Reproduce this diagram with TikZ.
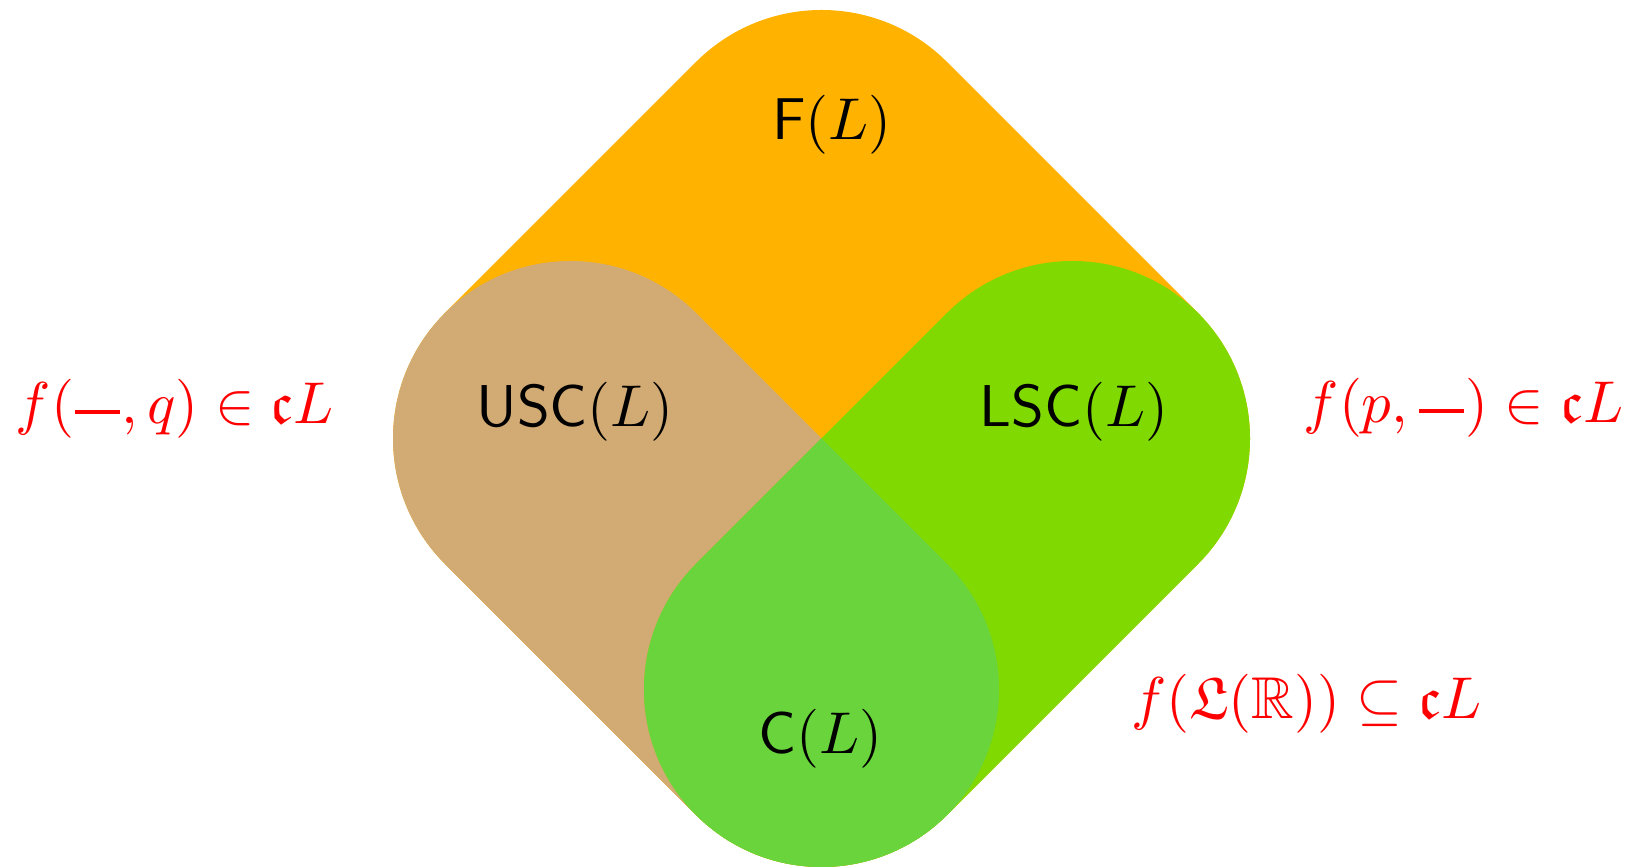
\documentclass[tikz,border=0pt]{standalone}
\usepackage{amssymb}
\usetikzlibrary{calc}
\definecolor{forange}{RGB}{255,179,0}
\definecolor{usctan}{RGB}{210,170,115}
\definecolor{lscgreen}{RGB}{128,217,0}
\definecolor{cgreen}{RGB}{106,212,60}
\newcommand{\blank}{\mbox{\kern0.02em\rule[0.17em]{0.76em}{0.075em}\kern0.02em}}
\begin{document}
\begin{tikzpicture}[x=0.16949pt,y=0.16949pt,
  lbl/.style={inner sep=0pt,anchor=base},
  redlbl/.style={lbl,text=red}]
\useasboundingbox (0,0) rectangle (1633,868);
\def\R{177.5}
\coordinate (O) at (821.5,429.5);
\coordinate (T) at (821.5,680.5);
\coordinate (Lc) at (570.5,429.5);
\coordinate (Rc) at (1072.5,429.5);
\coordinate (B) at (821.5,178.5);
% F(L): big rounded square
\fill[forange] ($(T)+(45:\R)$) arc[start angle=45,end angle=135,radius=\R]
  -- ($(Lc)+(135:\R)$) arc[start angle=135,end angle=225,radius=\R]
  -- ($(B)+(225:\R)$) arc[start angle=225,end angle=315,radius=\R]
  -- ($(Rc)+(315:\R)$) arc[start angle=-45,end angle=45,radius=\R] -- cycle;
% USC(L)
\fill[usctan] ($(Lc)+(45:\R)$) arc[start angle=45,end angle=225,radius=\R]
  -- ($(B)+(225:\R)$) arc[start angle=225,end angle=405,radius=\R] -- cycle;
% LSC(L)
\fill[lscgreen] ($(Rc)+(-45:\R)$) arc[start angle=-45,end angle=135,radius=\R]
  -- ($(B)+(135:\R)$) arc[start angle=135,end angle=315,radius=\R] -- cycle;
% C(L)
\fill[cgreen] (O) -- ($(B)+(45:\R)$) arc[start angle=45,end angle=-225,radius=\R] -- cycle;
% labels
\node[lbl] (f) at (832,728) {$\mathsf{F}(L)$};
\node[lbl] (usc) at (575,441) {$\mathsf{USC}(L)$};
\node[lbl] (lsc) at (1074,441) {$\mathsf{LSC}(L)$};
\node[lbl] (c) at (820.5,114) {$\mathsf{C}(L)$};
\node[redlbl] (lq) at (175,444) {$f(\blank,q)\in\mathfrak{c}L$};
\node[redlbl] (lp) at (1463.5,445) {$f(p,\blank)\in\mathfrak{c}L$};
\node[redlbl] (lr) at (1306.5,149) {$f(\mathfrak{L}(\mathbb{R}))\subseteq\mathfrak{c}L$};
\end{tikzpicture}
\end{document}
